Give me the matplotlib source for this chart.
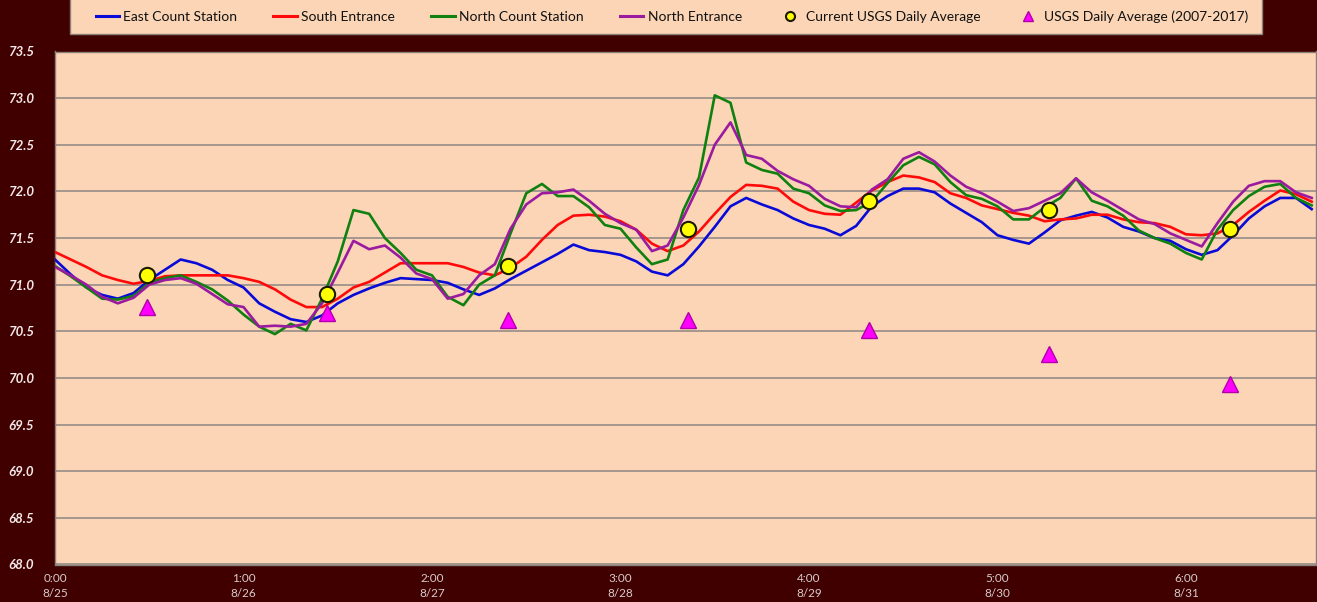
import matplotlib
matplotlib.use('Agg')
import matplotlib.pyplot as plt
import numpy as np
from matplotlib.patches import Rectangle
from matplotlib.lines import Line2D

plt.rcParams['font.family'] = ['Lato', 'DejaVu Sans']

# ---- data (hours since 8/25 0:00, sampled every 2 hours) ----
hours = np.arange(0, 161, 2)

east = [71.27, 71.11, 70.97, 70.89, 70.85, 70.91, 71.05, 71.16, 71.27, 71.23,
        71.16, 71.05, 70.97, 70.80, 70.71, 70.63, 70.60, 70.67, 70.80, 70.89,
        70.96, 71.02, 71.07, 71.06, 71.05, 71.02, 70.95, 70.89, 70.96, 71.06,
        71.15, 71.24, 71.33, 71.43, 71.37, 71.35, 71.32, 71.25, 71.14, 71.10,
        71.22, 71.41, 71.62, 71.84, 71.93, 71.86, 71.80, 71.71, 71.64, 71.60,
        71.53, 71.63, 71.84, 71.95, 72.03, 72.03, 71.99, 71.87, 71.77, 71.67,
        71.53, 71.48, 71.44, 71.56, 71.69, 71.74, 71.78, 71.72, 71.62, 71.57,
        71.50, 71.47, 71.38, 71.32, 71.37, 71.53, 71.71, 71.84, 71.93, 71.93,
        71.81]

south = [71.35, 71.27, 71.19, 71.10, 71.05, 71.01, 71.04, 71.09, 71.10, 71.10,
         71.10, 71.10, 71.07, 71.03, 70.95, 70.84, 70.76, 70.76, 70.85, 70.97,
         71.03, 71.13, 71.23, 71.23, 71.23, 71.23, 71.19, 71.13, 71.10, 71.18,
         71.30, 71.48, 71.64, 71.74, 71.75, 71.73, 71.68, 71.59, 71.44, 71.36,
         71.42, 71.57, 71.76, 71.94, 72.07, 72.06, 72.03, 71.89, 71.80, 71.76,
         71.75, 71.88, 72.01, 72.10, 72.17, 72.15, 72.10, 71.98, 71.93, 71.85,
         71.81, 71.77, 71.74, 71.68, 71.70, 71.71, 71.75, 71.75, 71.70, 71.67,
         71.66, 71.62, 71.54, 71.53, 71.55, 71.64, 71.78, 71.90, 72.01, 71.97,
         71.89]

north_count = [71.20, 71.09, 70.97, 70.85, 70.84, 70.88, 71.02, 71.07, 71.10, 71.03,
               70.95, 70.83, 70.68, 70.55, 70.47, 70.58, 70.51, 70.85, 71.25, 71.80,
               71.76, 71.50, 71.34, 71.16, 71.10, 70.87, 70.78, 71.00, 71.10, 71.55,
               71.98, 72.08, 71.95, 71.95, 71.83, 71.64, 71.60, 71.40, 71.22, 71.27,
               71.80, 72.15, 73.03, 72.95, 72.31, 72.23, 72.19, 72.03, 71.98, 71.85,
               71.79, 71.80, 71.89, 72.09, 72.28, 72.37, 72.29, 72.10, 71.96, 71.92,
               71.84, 71.70, 71.70, 71.83, 71.93, 72.14, 71.90, 71.84, 71.74, 71.58,
               71.50, 71.44, 71.34, 71.27, 71.59, 71.80, 71.95, 72.05, 72.08, 71.93,
               71.85]

north_entrance = [71.19, 71.10, 71.00, 70.87, 70.80, 70.86, 71.00, 71.05, 71.07, 71.01,
                  70.90, 70.79, 70.76, 70.55, 70.56, 70.55, 70.58, 70.80, 71.13, 71.47,
                  71.38, 71.42, 71.29, 71.12, 71.06, 70.85, 70.90, 71.10, 71.22, 71.60,
                  71.86, 71.98, 71.99, 72.02, 71.90, 71.76, 71.66, 71.59, 71.36, 71.42,
                  71.72, 72.07, 72.50, 72.74, 72.39, 72.35, 72.22, 72.13, 72.06, 71.92,
                  71.84, 71.83, 72.02, 72.13, 72.35, 72.42, 72.32, 72.17, 72.05, 71.98,
                  71.89, 71.79, 71.82, 71.90, 71.98, 72.14, 71.99, 71.90, 71.80, 71.70,
                  71.65, 71.55, 71.48, 71.41, 71.66, 71.89, 72.06, 72.11, 72.11, 71.99,
                  71.93]

usgs_hours = [11.7, 34.6, 57.7, 80.6, 103.6, 126.6, 149.6]
usgs_current = [71.10, 70.90, 71.20, 71.60, 71.90, 71.80, 71.60]
usgs_hist = [70.76, 70.70, 70.62, 70.62, 70.51, 70.26, 69.93]

xtick_hours = [0, 24, 48, 72, 96, 120, 144]
xtick_labels = ['0:00\n8/25', '1:00\n8/26', '2:00\n8/27', '3:00\n8/28',
                '4:00\n8/29', '5:00\n8/30', '6:00\n8/31']

series_names = ['East Count Station', 'South Entrance', 'North Count Station',
                'North Entrance', 'Current USGS Daily Average',
                'USGS Daily Average (2007-2017)']

# ---- figure ----
W, H = 1317, 602
fig = plt.figure(figsize=(W / 100, H / 100), dpi=100, facecolor='#400000')
left, right, top, bottom = 55, 1316, 51.5, 564.5
ax = fig.add_axes([left / W, 1 - bottom / H, (right - left) / W, (bottom - top) / H])
ax.set_facecolor('#fbd5b5')
ax.set_xlim(0, 160.55)
ax.set_ylim(68.0, 73.5)

yt = np.arange(68.0, 73.51, 0.5)
ax.set_yticks(yt)
ax.set_yticklabels(['%.1f' % v for v in yt], fontsize=9.5, fontweight='bold',
                   fontstyle='italic', color='#f4e8e8')
ax.set_xticks(xtick_hours)
ax.set_xticklabels(xtick_labels, fontsize=8.5, color='#d9cccc', linespacing=1.45)
ax.tick_params(axis='both', length=0)
ax.tick_params(axis='y', pad=15)
ax.tick_params(axis='x', pad=6)
ax.yaxis.grid(True, color='#9d928a', lw=1.3)
ax.set_axisbelow(True)
for s in ax.spines.values():
    s.set_color('#8c817a')
    s.set_linewidth(1.0)

lw = 1.9
ax.plot(hours, east, color='#0a0ad8', lw=lw, zorder=3)
ax.plot(hours, south, color='#ff0a0a', lw=lw, zorder=3)
ax.plot(hours, north_count, color='#108010', lw=lw, zorder=3)
ax.plot(hours, north_entrance, color='#9a1aa0', lw=lw, zorder=3)
ax.plot(usgs_hours, usgs_current, linestyle='none', marker='o', markersize=11,
        markerfacecolor='#ffff00', markeredgecolor='#1a1a00', markeredgewidth=1.5, zorder=5)
ax.plot(usgs_hours, usgs_hist, linestyle='none', marker='^', markersize=12,
        markerfacecolor='#ff00ff', markeredgecolor='#b000a8', markeredgewidth=1.0, zorder=5)

# ---- legend ----
fig.patches.append(Rectangle((70 / W, 1 - 34 / H), (1262 - 70) / W, 0.2,
                             transform=fig.transFigure, facecolor='#fbd5b5',
                             edgecolor='#8c817a', lw=1.0, zorder=0))
handles = [
    Line2D([], [], color='#0a0ad8', lw=2.2),
    Line2D([], [], color='#ff0a0a', lw=2.2),
    Line2D([], [], color='#108010', lw=2.2),
    Line2D([], [], color='#9a1aa0', lw=2.2),
    Line2D([], [], linestyle='none', marker='o', markersize=6.5, markerfacecolor='#ffff00',
           markeredgecolor='#1a1a00', markeredgewidth=1.5),
    Line2D([], [], linestyle='none', marker='^', markersize=7.5, markerfacecolor='#ff00ff',
           markeredgecolor='#b000a8', markeredgewidth=1.0),
]
fig.legend(handles, series_names, loc='center', bbox_to_anchor=(672 / W, 1 - 17 / H),
           ncol=6, frameon=False, fontsize=10, handlelength=1.7, handletextpad=0.3,
           columnspacing=2.6, labelcolor='#111111')

fig.savefig('out.png', dpi=100, facecolor=fig.get_facecolor())
